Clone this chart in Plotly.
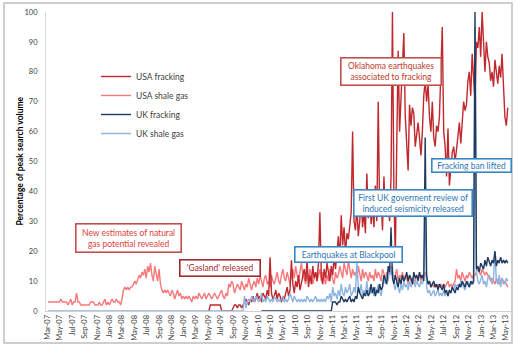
import pandas as pd
import plotly.graph_objects as go

# ---------------- data (weekly Google-trend style values) ----------------
start_all = "2007-03-04"      # first weekly point
start_us_frack = "2009-04-26" # USA fracking series begins
start_uk_frack = "2010-01-17" # UK fracking series begins

us_shale = [
    3,3,3,3,3,3,3,3,3,4,3,3,
    3,3,2,3,4,2,3,3,6,3,3,2,
    2,2,2,2,2,2,3,3,3,2,2,2,
    3,2,2,3,4,2,3,2,3,4,3,3,
    4,3,3,2,4,7,8,7,8,7,8,8,
    9,10,9,11,12,11,13,12,14,11,15,13,
    16,12,10,15,13,10,14,9,7,6,7,6,
    7,6,5,7,6,4,6,7,5,6,4,5,
    4,5,4,5,4,3,5,4,5,4,6,5,
    4,5,6,4,5,6,5,4,5,6,5,4,
    5,6,7,5,4,6,5,9,8,10,9,6,
    8,9,8,7,10,8,7,9,8,11,9,7,
    9,10,8,11,9,12,10,8,11,12,9,10,
    8,12,10,9,11,13,10,9,12,14,11,10,
    13,11,9,12,14,11,15,12,10,13,16,12,
    11,9,13,10,14,12,9,11,13,10,12,14,
    10,13,11,9,12,10,14,12,11,9,13,11,
    12,15,13,11,16,14,12,17,13,11,14,12,
    13,11,15,12,10,14,11,13,12,10,13,11,
    12,10,14,11,13,12,10,14,12,11,13,12,
    14,15,13,11,12,14,10,12,11,13,10,12,
    11,9,12,10,11,9,10,12,11,13,10,12,
    12,13,11,9,10,8,9,8,9,8,9,8,
    9,8,9,8,9,10,8,9,8,9,10,14,
    11,12,10,13,11,10,12,11,13,12,11,12,
    12,13,14,13,12,14,13,12,13,12,11,10,
    11,10,9,11,10,9,10,11,9,10,9,8,
]

us_frack = [
    0,0,2,2,2,2,2,2,
    2,2,0,0,0,0,0,0,0,0,1,2,
    2,1,2,2,1,2,3,4,3,2,4,3,
    5,3,4,6,4,5,3,6,5,4,7,5,
    18,6,4,5,7,4,6,5,3,5,4,6,
    8,5,7,17,9,6,10,8,12,7,9,11,
    14,10,17,8,12,9,15,11,13,10,16,33,
    12,9,14,11,16,13,10,15,12,18,14,20,
    25,17,32,22,28,19,26,24,29,33,60,30,
    27,35,25,30,38,28,33,26,46,31,40,29,
    35,28,42,30,70,33,38,27,45,32,40,35,
    30,45,100,40,18,55,87,60,72,85,93,65,
    55,47,69,62,68,66,55,60,63,58,52,60,
    72,77,70,76,65,60,70,58,55,62,60,65,
    80,95,60,55,45,61,42,48,53,55,50,54,
    58,63,56,65,70,67,69,77,80,72,86,78,
    70,90,88,95,85,100,92,80,90,85,83,77,
    80,75,84,79,76,82,78,86,72,65,62,68,
]

uk_frack = [
    0,0,0,0,0,0,
    0,0,0,0,0,0,0,0,0,0,0,0,
    0,0,0,0,0,0,0,0,0,0,0,0,
    0,0,0,0,0,0,0,0,0,0,0,0,
    0,0,0,0,0,0,0,0,3,3,3,2,
    3,3,5,4,3,4,3,4,5,3,4,3,
    5,4,8,6,5,4,6,5,7,5,6,9,
    6,8,5,7,6,9,7,8,12,10,9,15,
    13,28,11,9,12,10,8,11,9,12,10,11,
    13,10,12,11,9,13,11,12,10,13,11,12,
    10,58,12,9,10,8,9,10,8,9,7,9,
    8,7,9,6,7,5,7,6,8,7,6,8,
    7,9,8,10,9,8,10,9,8,10,9,10,
    100,14,15,13,16,15,14,17,15,18,16,15,
    17,16,20,15,17,16,18,16,17,16,17,16,
]

uk_shale = [
    0,0,0,0,0,0,0,0,0,0,0,0,
    0,0,0,0,0,0,0,0,0,0,0,0,
    0,0,0,0,0,0,0,0,0,0,0,0,
    0,0,0,0,0,0,0,0,0,0,0,0,
    0,0,0,0,0,0,0,0,0,0,0,0,
    0,0,0,0,0,0,0,0,0,0,0,0,
    0,0,0,0,0,0,0,0,0,0,0,0,
    0,0,0,0,0,0,0,0,0,0,0,0,
    0,0,0,0,0,0,0,0,0,0,0,0,
    0,0,0,0,0,0,0,0,0,0,0,0,
    0,0,0,0,0,0,0,0,0,0,0,0,
    0,0,0,0,0,0,5,1,3,4,3,5,
    4,3,5,4,3,4,6,3,4,3,5,4,
    3,4,3,5,4,3,4,3,4,5,3,4,
    3,4,6,4,3,5,4,3,4,3,4,3,
    4,3,5,4,3,4,3,4,5,3,4,3,
    4,3,4,3,5,4,6,3,8,5,6,4,
    7,5,9,6,5,8,6,7,9,5,6,8,
    6,17,8,6,9,5,7,6,10,5,8,6,
    7,5,8,6,9,7,5,8,11,9,12,10,
    14,12,15,9,7,10,8,6,9,7,10,8,
    9,7,10,8,9,11,8,10,9,8,10,9,
    11,35,8,6,7,5,6,7,5,6,7,5,
    6,5,7,5,6,5,7,6,8,7,9,8,
    9,8,10,9,8,7,9,10,8,9,10,9,
    95,13,10,9,11,12,9,10,8,11,12,10,
    9,11,20,10,9,12,8,11,10,9,11,10,
]

series_names = ["USA fracking", "USA shale gas", "UK fracking", "UK shale gas"]
series_colors = ["#C0282D", "#F7787B", "#1F3A5F", "#8DB3E2"]
y_ticks = [0, 10, 20, 30, 40, 50, 60, 70, 80, 90, 100]

annotations_text = [
    "New estimates of natural<br>gas potential revealed",
    "'Gasland' released",
    "Oklahoma earthquakes<br>associated to fracking",
    "Earthquakes at Blackpool",
    "First UK goverment review of<br>induced seismicity released",
    "Fracking ban lifted",
]

# ---------------- figure ----------------
W, H = 519, 350
L, R, T, B = 46, 8, 12, 39
pw, ph = W - L - R, H - T - B

def px(x):
    return (x - L) / pw

def py(y):
    return (H - B - y) / ph

d_all = pd.date_range(start_all, periods=len(us_shale), freq="7D")
d_usf = pd.date_range(start_us_frack, periods=len(us_frack), freq="7D")
d_ukf = pd.date_range(start_uk_frack, periods=len(uk_frack), freq="7D")
d_uks = pd.date_range(start_all, periods=len(uk_shale), freq="7D")

FONT = "Lato"
fig = go.Figure()
traces = [
    (d_all, us_shale, 1, 2),
    (d_usf, us_frack, 0, 1),
    (d_uks, uk_shale, 3, 4),
    (d_ukf, uk_frack, 2, 3),
]
for xs, ys, idx, rank in traces:
    fig.add_trace(go.Scatter(
        x=xs, y=ys, mode="lines", name=series_names[idx],
        line=dict(color=series_colors[idx], width=1.4),
        legendrank=rank,
    ))

box_specs = [
    # (cx, cy, w, h, text color, border color)
    (128, 237.5, 108, 31, "#E0403E", "#C0504D"),
    (219.5, 267.5, 83, 19, "#A52A2E", "#A52A2E"),
    (390.5, 71, 103, 30, "#C0392B", "#C0504D"),
    (348, 254, 110, 18, "#2E75B6", "#3A86C5"),
    (412.5, 202.5, 121, 29, "#2E75B6", "#3A86C5"),
    (471, 165, 82, 16, "#2E75B6", "#3A86C5"),
]
anns = []
for txt, (cx, cy, bw, bh, tc, bc) in zip(annotations_text, box_specs):
    anns.append(dict(
        text=txt, xref="paper", yref="paper", x=px(cx), y=py(cy),
        xanchor="center", yanchor="middle", showarrow=False,
        font=dict(family=FONT, size=8.5, color=tc),
        bgcolor="white", bordercolor=bc, borderwidth=1.6, borderpad=1,
        width=bw - 6, height=bh - 6, align="center",
    ))

anns.append(dict(
    text="<b>Percentage of peak search volume</b>", textangle=-90,
    xref="paper", yref="paper", x=px(19.5), y=py(161), xanchor="center", yanchor="middle",
    showarrow=False, font=dict(family=FONT, size=8.5, color="#000000"),
))

fig.update_layout(
    width=W, height=H,
    margin=dict(l=L, r=R, t=T, b=B),
    paper_bgcolor="white", plot_bgcolor="white",
    font=dict(family=FONT, color="#404040"),
    showlegend=True,
    legend=dict(
        x=px(96), y=py(62), xanchor="left", yanchor="top",
        bgcolor="rgba(0,0,0,0)", font=dict(family=FONT, size=8.5, color="#404040"),
        itemwidth=30, traceorder="normal",
    ),
    xaxis=dict(
        type="date",
        range=["2007-02-22", "2013-05-28"],
        tick0="2007-03-01", dtick="M2", tickformat="%b-%y",
        tickangle=-90, tickfont=dict(family=FONT, size=7.5, color="#404040"),
        showgrid=False, showline=True, linecolor="#D0D0D0", linewidth=1,
        ticks="", zeroline=False,
    ),
    yaxis=dict(
        range=[0, 100], tickvals=y_ticks,
        tickfont=dict(family=FONT, size=7.5, color="#404040"),
        showgrid=False, showline=True, linecolor="#D9D9D9", linewidth=1,
        ticks="outside", ticklen=6, tickcolor="rgba(0,0,0,0)", zeroline=False,
    ),
    annotations=anns,
    shapes=[dict(
        type="rect", xref="paper", yref="paper",
        x0=px(4), x1=px(512), y0=py(343), y1=py(3),
        line=dict(color="#BFBFBF", width=1.5), fillcolor="rgba(0,0,0,0)", layer="below",
    )],
)

fig.write_html("out.html")
